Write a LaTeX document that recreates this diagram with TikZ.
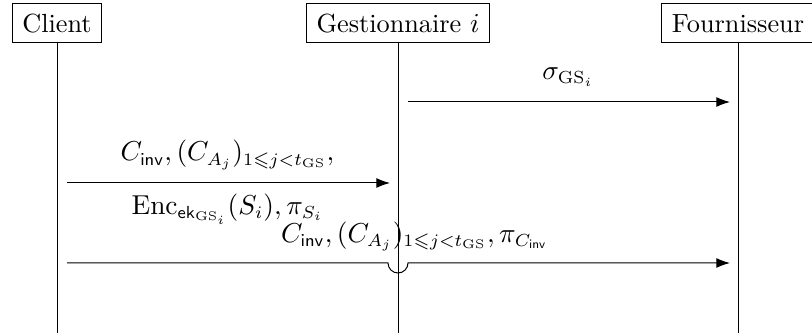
\documentclass[tikz,border=0pt]{standalone}
\usepackage{amsmath}
\usepackage{amssymb}
\usetikzlibrary{positioning,arrows.meta,calc}

\begin{document}
\begin{tikzpicture}[
    x=0.4pt,
    y=0.4pt,
    font=\fontsize{10.5}{12.5}\selectfont,
    actor/.style={
        draw,
        thin,
        minimum height=15.6pt,
        inner xsep=4pt,
        inner ysep=2pt
    },
    life/.style={thin},
    msg/.style={-{Latex[length=5.5pt,width=4pt]}, thin,
        shorten <=4pt, shorten >=3.2pt},
    lbl/.style={inner sep=2pt}
]
\useasboundingbox (0,0) rectangle (812,333);

% ============================================================
% PARTICIPANTS ET LIGNES DE VIE
% ============================================================
\node[actor] (client) at (57,309.5) {Client};
\node[actor] (gest) at (398,309.5) {Gestionnaire $i$};
\node[actor] (four) at (738,309.5) {Fournisseur};

\coordinate (clientend) at (client |- 0,0);
\coordinate (gestend) at (gest |- 0,0);
\coordinate (fourend) at (four |- 0,0);

\draw[life] (client.south) -- (clientend);
\draw[life] (gest.south) -- (gestend);
\draw[life] (four.south) -- (fourend);

% ============================================================
% MESSAGES
% ============================================================
% signature du gestionnaire
\coordinate (g1) at (gest |- 0,231);
\coordinate (f1) at (four |- 0,231);
\draw[msg] (g1) -- node[lbl, above=4pt] {$\sigma_{\mathrm{GS}_i}$} (f1);

% envoi au gestionnaire
\coordinate (c2) at (client |- 0,150);
\coordinate (g2) at (gest |- 0,150);
\draw[msg] (c2) --
    node[lbl, above=3pt] {$C_{\mathsf{inv}}, (C_{A_j})_{1\leqslant j<t_{\mathrm{GS}}},$}
    node[lbl, below=2pt] {$\mathrm{Enc}_{\mathsf{ek}_{\mathrm{GS}_i}}(S_i), \pi_{S_i}$} (g2);

% envoi au fournisseur (saut au-dessus de la ligne du gestionnaire)
\coordinate (c3) at (client |- 0,70);
\coordinate (g3) at (gest |- 0,70);
\coordinate (f3) at (four |- 0,70);
\draw[msg] (c3) -- ($(g3)+(-10,0)$)
    arc[start angle=180, end angle=360, radius=10] -- (f3);
\path (c3) -- node[lbl, above=2.5pt, pos=0.525]
    {$C_{\mathsf{inv}}, (C_{A_j})_{1\leqslant j<t_{\mathrm{GS}}}, \pi_{C_{\mathsf{inv}}}$} (f3);

\end{tikzpicture}
\end{document}
